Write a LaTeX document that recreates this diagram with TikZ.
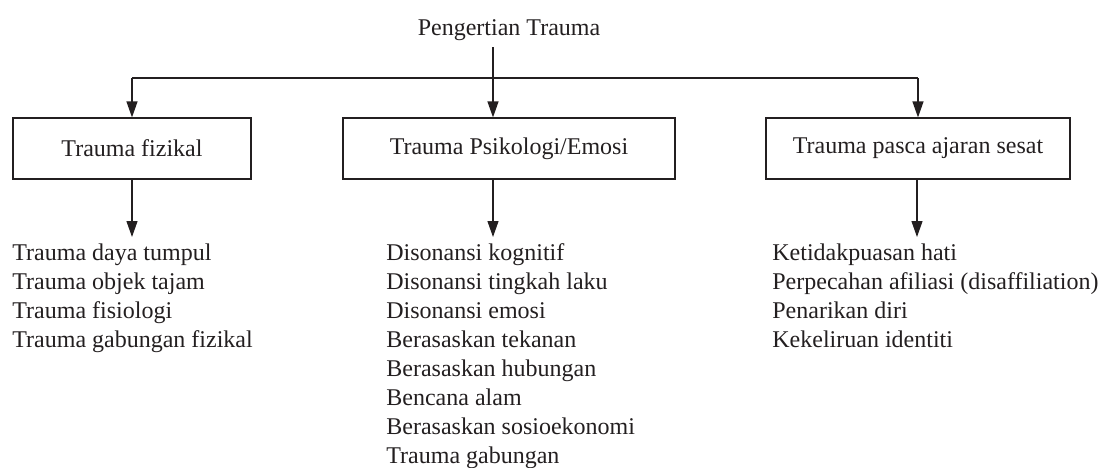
\documentclass[tikz,border=0pt]{standalone}
\usepackage{fontspec}
\setmainfont{Liberation Serif}
\usetikzlibrary{arrows.meta}
\definecolor{ink}{HTML}{231F20}
\tikzset{
  x=0.5pt, y=-0.5pt,
  txt/.style={font=\fontsize{12}{14.5}\selectfont, text=ink, inner sep=0pt},
  item/.style={txt, anchor=base west},
  catbox/.style={txt, draw=ink, line width=0.6pt, minimum height=30.5pt},
  arr/.style={draw=ink, line width=0.6pt, -{Triangle[length=8pt,width=5.5pt]}},
  ln/.style={draw=ink, line width=0.6pt}
}
\begin{document}
\begin{tikzpicture}
\useasboundingbox (0,0) rectangle (1100,467);
% title
\node[txt, anchor=base] (title) at (509,35) {Pengertian Trauma};
\coordinate (t) at (493,47);
\coordinate (j) at (493,78);
% boxes
\node[catbox, minimum width=119pt] (b1) at (132,148.5) {Trauma fizikal};
\node[catbox, minimum width=166pt] (b2) at (509,148.5) {Trauma Psikologi/Emosi};
\node[catbox, minimum width=152pt] (b3) at (918,148.5) {Trauma pasca ajaran sesat};
% top connectors
\draw[ln] (j -| b1.north) -- (j -| b3.north);
\draw[arr] (t) -- (j |- b2.north);
\draw[arr] (j -| b1.north) -- (b1.north);
\draw[arr] (j -| b3.north) -- (b3.north);
% list ends
\coordinate (e1) at (132,237);
\coordinate (e2) at (493,237);
\coordinate (e3) at (917,237);
\draw[arr] (b1.south) -- (e1);
\draw[arr] (b2.south -| e2) -- (e2);
\draw[arr] (b3.south -| e3) -- (e3);
% left list
\node[item] (l1) at (12,260) {Trauma daya tumpul};
\node[item] (l2) at (12,289) {Trauma objek tajam};
\node[item] (l3) at (12,318) {Trauma fisiologi};
\node[item] (l4) at (12,347) {Trauma gabungan fizikal};
% middle list
\node[item] (m1) at (386,260) {Disonansi kognitif};
\node[item] (m2) at (386,289) {Disonansi tingkah laku};
\node[item] (m3) at (386,318) {Disonansi emosi};
\node[item] (m4) at (386,347) {Berasaskan tekanan};
\node[item] (m5) at (386,376) {Berasaskan hubungan};
\node[item] (m6) at (386,405) {Bencana alam};
\node[item] (m7) at (386,434) {Berasaskan sosioekonomi};
\node[item] (m8) at (386,463) {Trauma gabungan};
% right list
\node[item] (r1) at (772,260) {Ketidakpuasan hati};
\node[item] (r2) at (772,289) {Perpecahan afiliasi (disaffiliation)};
\node[item] (r3) at (772,318) {Penarikan diri};
\node[item] (r4) at (772,347) {Kekeliruan identiti};
\end{tikzpicture}
\end{document}
